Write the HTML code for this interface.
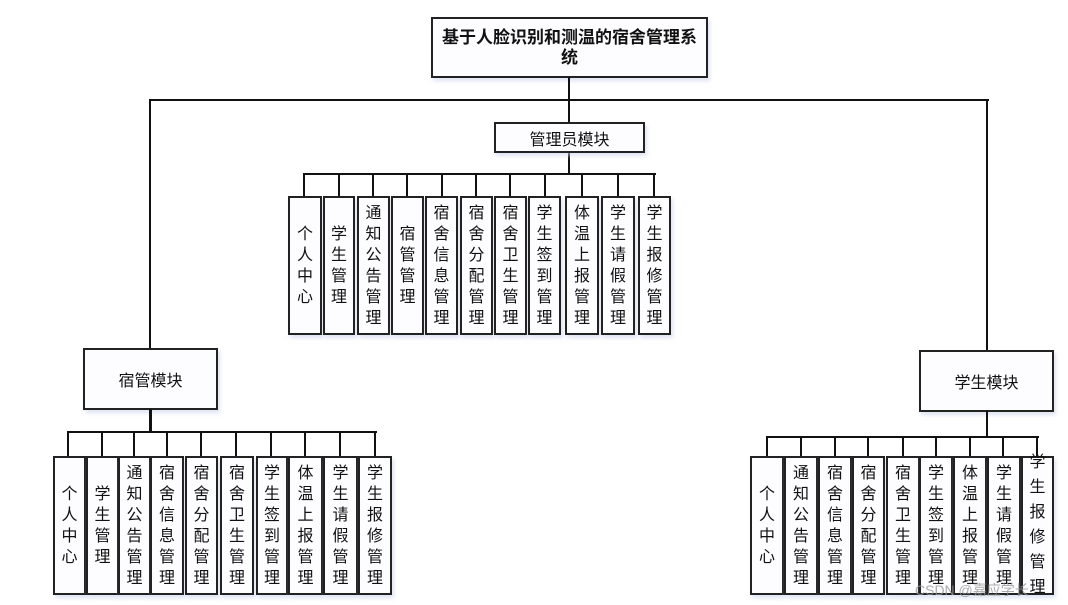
<!DOCTYPE html>
<html><head><meta charset="utf-8"><style>
body{margin:0;width:1068px;height:605px;background:#fff;position:relative;overflow:hidden;font-family:"Liberation Sans","Noto Sans CJK SC",sans-serif;color:#111}
.l{position:absolute;background:#111}
.b{position:absolute;box-sizing:border-box;border:2px solid #222;background:#fdfdff;display:flex;align-items:center;justify-content:center;text-align:center;font-size:16px;box-shadow:2px 3px 4px rgba(200,210,235,.6)}
.v{position:absolute;box-sizing:border-box;border:2px solid #222;background:#fdfdff;display:flex;align-items:center;justify-content:center;font-size:16px;box-shadow:2px 3px 4px rgba(200,210,235,.6)}
.v span{display:block;width:17px;line-height:21px;word-break:break-all;text-align:center}
</style></head><body>
<div class="b" style="left:431px;top:17px;width:277px;height:61px;font-weight:bold;line-height:20px;font-size:17px;padding:0 8px">基于人脸识别和测温的宿舍管理系统</div>
<div class="l" style="left:568px;top:77px;width:2px;height:24px"></div>
<div class="l" style="left:149px;top:99px;width:840px;height:2px"></div>
<div class="l" style="left:149px;top:99px;width:2px;height:250px"></div>
<div class="l" style="left:986px;top:99px;width:2px;height:252px"></div>
<div class="l" style="left:568px;top:99px;width:2px;height:76px"></div>
<div class="b" style="left:494px;top:122px;width:151px;height:31px">管理员模块</div>
<div class="b" style="left:83px;top:348px;width:135px;height:62px">宿管模块</div>
<div class="b" style="left:919px;top:350px;width:135px;height:62px">学生模块</div>

<div class="l" style="left:303px;top:173px;width:353px;height:2px"></div>
<div class="l" style="left:303px;top:173px;width:2px;height:23px"></div>
<div class="l" style="left:338px;top:173px;width:2px;height:23px"></div>
<div class="l" style="left:372px;top:173px;width:2px;height:23px"></div>
<div class="l" style="left:406px;top:173px;width:2px;height:23px"></div>
<div class="l" style="left:441px;top:173px;width:2px;height:23px"></div>
<div class="l" style="left:475px;top:173px;width:2px;height:23px"></div>
<div class="l" style="left:509px;top:173px;width:2px;height:23px"></div>
<div class="l" style="left:544px;top:173px;width:2px;height:23px"></div>
<div class="l" style="left:581px;top:173px;width:2px;height:23px"></div>
<div class="l" style="left:617px;top:173px;width:2px;height:23px"></div>
<div class="l" style="left:653px;top:173px;width:2px;height:23px"></div>
<div class="v" style="left:288px;top:196px;width:34px;height:139px"><span>个人中心</span></div>
<div class="v" style="left:323px;top:196px;width:32px;height:139px"><span>学生管理</span></div>
<div class="v" style="left:357px;top:196px;width:33px;height:139px"><span>通知公告管理</span></div>
<div class="v" style="left:391px;top:196px;width:33px;height:139px"><span>宿管管理</span></div>
<div class="v" style="left:425px;top:196px;width:33px;height:139px"><span>宿舍信息管理</span></div>
<div class="v" style="left:460px;top:196px;width:33px;height:139px"><span>宿舍分配管理</span></div>
<div class="v" style="left:494px;top:196px;width:33px;height:139px"><span>宿舍卫生管理</span></div>
<div class="v" style="left:528px;top:196px;width:33px;height:139px"><span>学生签到管理</span></div>
<div class="v" style="left:565px;top:196px;width:34px;height:139px"><span>体温上报管理</span></div>
<div class="v" style="left:601px;top:196px;width:34px;height:139px"><span>学生请假管理</span></div>
<div class="v" style="left:638px;top:196px;width:33px;height:139px"><span>学生报修管理</span></div>

<div class="l" style="left:149px;top:409px;width:3px;height:24px"></div>
<div class="l" style="left:67px;top:431px;width:310px;height:2px"></div>
<div class="l" style="left:67px;top:431px;width:2px;height:25px"></div>
<div class="l" style="left:101px;top:431px;width:2px;height:25px"></div>
<div class="l" style="left:133px;top:431px;width:2px;height:25px"></div>
<div class="l" style="left:166px;top:431px;width:2px;height:25px"></div>
<div class="l" style="left:200px;top:431px;width:2px;height:25px"></div>
<div class="l" style="left:235px;top:431px;width:2px;height:25px"></div>
<div class="l" style="left:270px;top:431px;width:2px;height:25px"></div>
<div class="l" style="left:304px;top:431px;width:2px;height:25px"></div>
<div class="l" style="left:339px;top:431px;width:2px;height:25px"></div>
<div class="l" style="left:374px;top:431px;width:2px;height:25px"></div>
<div class="v" style="left:53px;top:456px;width:33px;height:139px"><span>个人中心</span></div>
<div class="v" style="left:86px;top:456px;width:33px;height:139px"><span>学生管理</span></div>
<div class="v" style="left:118px;top:456px;width:33px;height:139px"><span>通知公告管理</span></div>
<div class="v" style="left:150px;top:456px;width:34px;height:139px"><span>宿舍信息管理</span></div>
<div class="v" style="left:185px;top:456px;width:33px;height:139px"><span>宿舍分配管理</span></div>
<div class="v" style="left:220px;top:456px;width:34px;height:139px"><span>宿舍卫生管理</span></div>
<div class="v" style="left:256px;top:456px;width:32px;height:139px"><span>学生签到管理</span></div>
<div class="v" style="left:288px;top:456px;width:35px;height:139px"><span>体温上报管理</span></div>
<div class="v" style="left:323px;top:456px;width:35px;height:139px"><span>学生请假管理</span></div>
<div class="v" style="left:358px;top:456px;width:34px;height:139px"><span>学生报修管理</span></div>

<div class="l" style="left:986px;top:410px;width:2px;height:28px"></div>
<div class="l" style="left:766px;top:436px;width:273px;height:2px"></div>
<div class="l" style="left:766px;top:436px;width:2px;height:20px"></div>
<div class="l" style="left:800px;top:436px;width:2px;height:20px"></div>
<div class="l" style="left:834px;top:436px;width:2px;height:20px"></div>
<div class="l" style="left:867px;top:436px;width:2px;height:20px"></div>
<div class="l" style="left:902px;top:436px;width:2px;height:20px"></div>
<div class="l" style="left:935px;top:436px;width:2px;height:20px"></div>
<div class="l" style="left:969px;top:436px;width:2px;height:20px"></div>
<div class="l" style="left:1002px;top:436px;width:2px;height:20px"></div>
<div class="l" style="left:1036px;top:436px;width:2px;height:20px"></div>
<div class="v" style="left:750px;top:456px;width:34px;height:139px"><span>个人中心</span></div>
<div class="v" style="left:784px;top:456px;width:34px;height:139px"><span>通知公告管理</span></div>
<div class="v" style="left:818px;top:456px;width:34px;height:139px"><span>宿舍信息管理</span></div>
<div class="v" style="left:852px;top:456px;width:33px;height:139px"><span>宿舍分配管理</span></div>
<div class="v" style="left:886px;top:456px;width:34px;height:139px"><span>宿舍卫生管理</span></div>
<div class="v" style="left:919px;top:456px;width:34px;height:139px"><span>学生签到管理</span></div>
<div class="v" style="left:953px;top:456px;width:34px;height:139px"><span>体温上报管理</span></div>
<div class="v" style="left:987px;top:456px;width:34px;height:139px"><span>学生请假管理</span></div>
<div class="v" style="left:1021px;top:456px;width:33px;height:139px;align-items:flex-start;overflow:visible"><span style="margin-top:-8px;line-height:25px">学生报修管理</span></div>
<div style="position:absolute;left:915px;top:580px;font-size:14px;color:rgba(150,150,150,.8)">CSDN @嘉应学长</div>
</body></html>
